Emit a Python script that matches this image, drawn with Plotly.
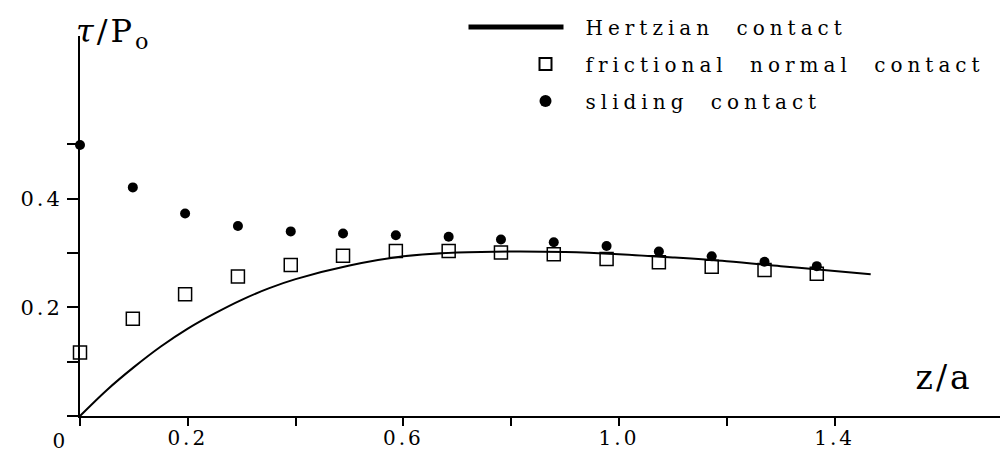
import plotly.graph_objects as go

# ---- data ----
hertz_z = [0, 0.05, 0.1, 0.15, 0.2, 0.25, 0.3, 0.35, 0.4, 0.5, 0.6, 0.7, 0.8, 0.9, 1.0, 1.1, 1.2, 1.3, 1.4, 1.467]
hertz_tau = [0, 0.048, 0.090, 0.128, 0.161, 0.189, 0.214, 0.235, 0.252, 0.277, 0.294, 0.301, 0.303, 0.302, 0.298, 0.292, 0.285, 0.276, 0.267, 0.261]

pts_z = [0, 0.098, 0.195, 0.293, 0.391, 0.488, 0.586, 0.684, 0.781, 0.879, 0.977, 1.074, 1.172, 1.270, 1.367]
frictional_tau = [0.117, 0.179, 0.224, 0.257, 0.278, 0.295, 0.304, 0.304, 0.301, 0.298, 0.289, 0.283, 0.275, 0.269, 0.262]
sliding_tau = [0.499, 0.421, 0.373, 0.350, 0.340, 0.336, 0.333, 0.330, 0.325, 0.320, 0.313, 0.303, 0.294, 0.284, 0.276]

x_tickvals = [0.2, 0.6, 1.0, 1.4]
x_ticktext = ["0.2", "0.6", "1.0", "1.4"]
x_minor_ticks = [0, 0.4, 0.8, 1.2]
y_tickvals = [0.2, 0.4]
y_ticktext = ["0.2", "0.4"]
y_minor_ticks = [0, 0.1, 0.3, 0.5]

FONT = "DejaVu Serif"

fig = go.Figure()
fig.add_trace(go.Scatter(x=hertz_z, y=hertz_tau, mode="lines", name="Hertzian contact",
                         line=dict(color="black", width=2, shape="spline"), legendgroup="a"))
fig.add_trace(go.Scatter(x=pts_z, y=frictional_tau, mode="markers", name="frictional normal contact",
                         marker=dict(symbol="square-open", size=13, color="black", line=dict(width=1.5)),
                         legendgroup="b", cliponaxis=False))
fig.add_trace(go.Scatter(x=pts_z, y=sliding_tau, mode="markers", name="sliding contact",
                         marker=dict(symbol="circle", size=10, color="black"), legendgroup="c",
                         cliponaxis=False))

fig.update_layout(
    width=1008, height=452,
    margin=dict(l=72, r=5, t=28, b=44, autoexpand=False),
    paper_bgcolor="white", plot_bgcolor="white",
    font=dict(family=FONT, color="black", size=20),
    showlegend=True,
    legend=dict(x=0.5, y=1.075, xanchor="left", yanchor="top",
                font=dict(family=FONT, size=20, color="black"),
                tracegroupgap=8, bgcolor="rgba(0,0,0,0)", itemsizing="constant"),
    xaxis=dict(range=[0, 1.7273], showgrid=False, zeroline=False, showline=True, automargin=False,
               linecolor="black", linewidth=2, ticks="outside", ticklen=8, tickwidth=1.5,
               tickcolor="black", tickmode="array", tickvals=x_tickvals, ticktext=x_ticktext,
               ticklabelstandoff=-5, tickfont=dict(family=FONT, size=20, color="black"),
               minor=dict(tickmode="array", tickvals=x_minor_ticks, ticks="outside", ticklen=8,
                          tickwidth=1.5, tickcolor="black", showgrid=False)),
    yaxis=dict(range=[0, 0.6998], showgrid=False, zeroline=False, showline=True, automargin=False,
               linecolor="black", linewidth=2, ticks="outside", ticklen=11, tickwidth=1.5,
               tickcolor="black", tickmode="array", tickvals=y_tickvals, ticktext=y_ticktext,
               tickfont=dict(family=FONT, size=21, color="black"),
               minor=dict(tickmode="array", tickvals=y_minor_ticks, ticks="outside", ticklen=11,
                          tickwidth=1.5, tickcolor="black", showgrid=False)),
    annotations=[
        dict(text="<i>τ</i>/P<sub>o</sub>", xref="paper", yref="paper", x=0.0, y=1.068,
             xanchor="left", yanchor="top", showarrow=False,
             font=dict(family=FONT, size=32, color="black")),
        dict(text="z/a", xref="paper", yref="paper", x=0.9, y=0.045,
             xanchor="left", yanchor="bottom", showarrow=False,
             font=dict(family=FONT, size=33, color="black")),
        dict(text="0", xref="x", yref="paper", x=0, y=-0.03, xshift=-20,
             xanchor="center", yanchor="top", showarrow=False,
             font=dict(family=FONT, size=20, color="black")),
    ],
)

post = """
var gd = document.getElementById('{plot_id}');
gd.querySelectorAll('.legend, .legend .scrollbox, .legend g').forEach(function(e){ e.removeAttribute('clip-path'); });
gd.querySelectorAll('.legendtext').forEach(function(t){ t.setAttribute('letter-spacing','5px'); t.setAttribute('word-spacing','11px'); });
gd.querySelectorAll('.legendlines path').forEach(function(p){ p.setAttribute('d','M-77,0h95'); });
gd.querySelectorAll('.legendpoints path').forEach(function(p){ p.setAttribute('transform','translate(0,0)'); });
gd.querySelectorAll('.xtick text, .ytick text').forEach(function(t){ t.setAttribute('letter-spacing','3px'); });
gd.querySelectorAll('.annotation-text').forEach(function(t){ t.setAttribute('letter-spacing','3px'); });
"""
fig.write_html("out.html", post_script=post)
